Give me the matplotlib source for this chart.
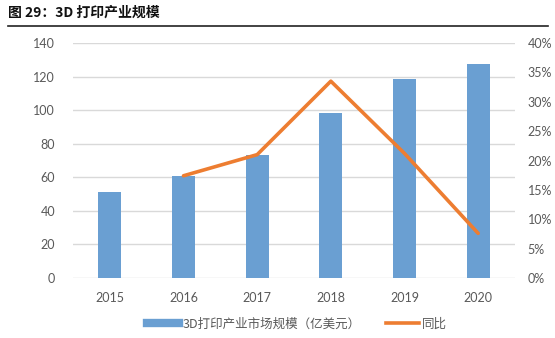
import matplotlib
matplotlib.use("Agg")
import matplotlib.pyplot as plt
from matplotlib.lines import Line2D

plt.rcParams['font.family'] = ['Noto Sans CJK SC', 'DejaVu Sans']

years = ['2015', '2016', '2017', '2018', '2019', '2020']
market_size = [51.5, 60.8, 73.2, 98.2, 118.5, 127.4]
yoy_years_idx = [1, 2, 3, 4, 5]
yoy = [17.4, 21.0, 33.5, 21.2, 7.6]
left_ticks = [0, 20, 40, 60, 80, 100, 120, 140]
right_ticks = [0, 5, 10, 15, 20, 25, 30, 35, 40]

W, H = 555, 338
fig = plt.figure(figsize=(W / 100, H / 100), dpi=100)
ax = fig.add_axes([73 / W, 1 - 278 / H, (515 - 73) / W, (278 - 43) / H])
ax2 = ax.twinx()

bar_color = '#6A9FD2'
line_color = '#ED7D31'
tick_color = '#595959'
tick_font = ['Lato', 'DejaVu Sans']

x = list(range(len(years)))
ax.bar(x, market_size, width=0.31, color=bar_color, zorder=3)
ax.set_xlim(-0.5, len(years) - 0.5)
ax.set_ylim(0, 140)
ax.set_yticks(left_ticks)
ax.set_xticks(x)
ax.set_xticklabels(years)
ax.grid(axis='y', color='#D9D9D9', linewidth=1, zorder=0)
ax.set_axisbelow(True)

ax2.plot(yoy_years_idx, yoy, color=line_color, linewidth=2.6, zorder=4, solid_capstyle='round')
ax2.set_ylim(0, 40)
ax2.set_yticks(right_ticks)
ax2.set_yticklabels([f'{t}%' for t in right_ticks])

for a in (ax, ax2):
    for s in a.spines.values():
        s.set_visible(False)
    a.tick_params(length=0, labelsize=9, colors=tick_color)
    for lbl in a.get_xticklabels() + a.get_yticklabels():
        lbl.set_family(tick_font)
ax.tick_params(axis='x', pad=10)
ax.tick_params(axis='y', pad=13)
ax2.tick_params(axis='y', pad=9)

# Title
fig.text(8 / W, 1 - 13 / H, '图 29：3D 打印产业规模', fontsize=10, fontweight='bold',
         color='#111111', va='center', ha='left')
fig.add_artist(Line2D([8 / W, 548 / W], [1 - 26 / H, 1 - 26 / H], color='#222222', linewidth=1.2))

# Legend
handles = [
    Line2D([0], [0], color=bar_color, linewidth=6),
    Line2D([0], [0], color=line_color, linewidth=2.6),
]
labels = ['3D打印产业市场规模（亿美元）', '同比']
fig.legend(handles, labels, loc='center', bbox_to_anchor=(297 / W, 1 - 324 / H), ncol=2,
           frameon=False, fontsize=9, labelcolor=tick_color, handlelength=2.6,
           columnspacing=2.0, handletextpad=0.3)

fig.savefig('out.png', dpi=100)
